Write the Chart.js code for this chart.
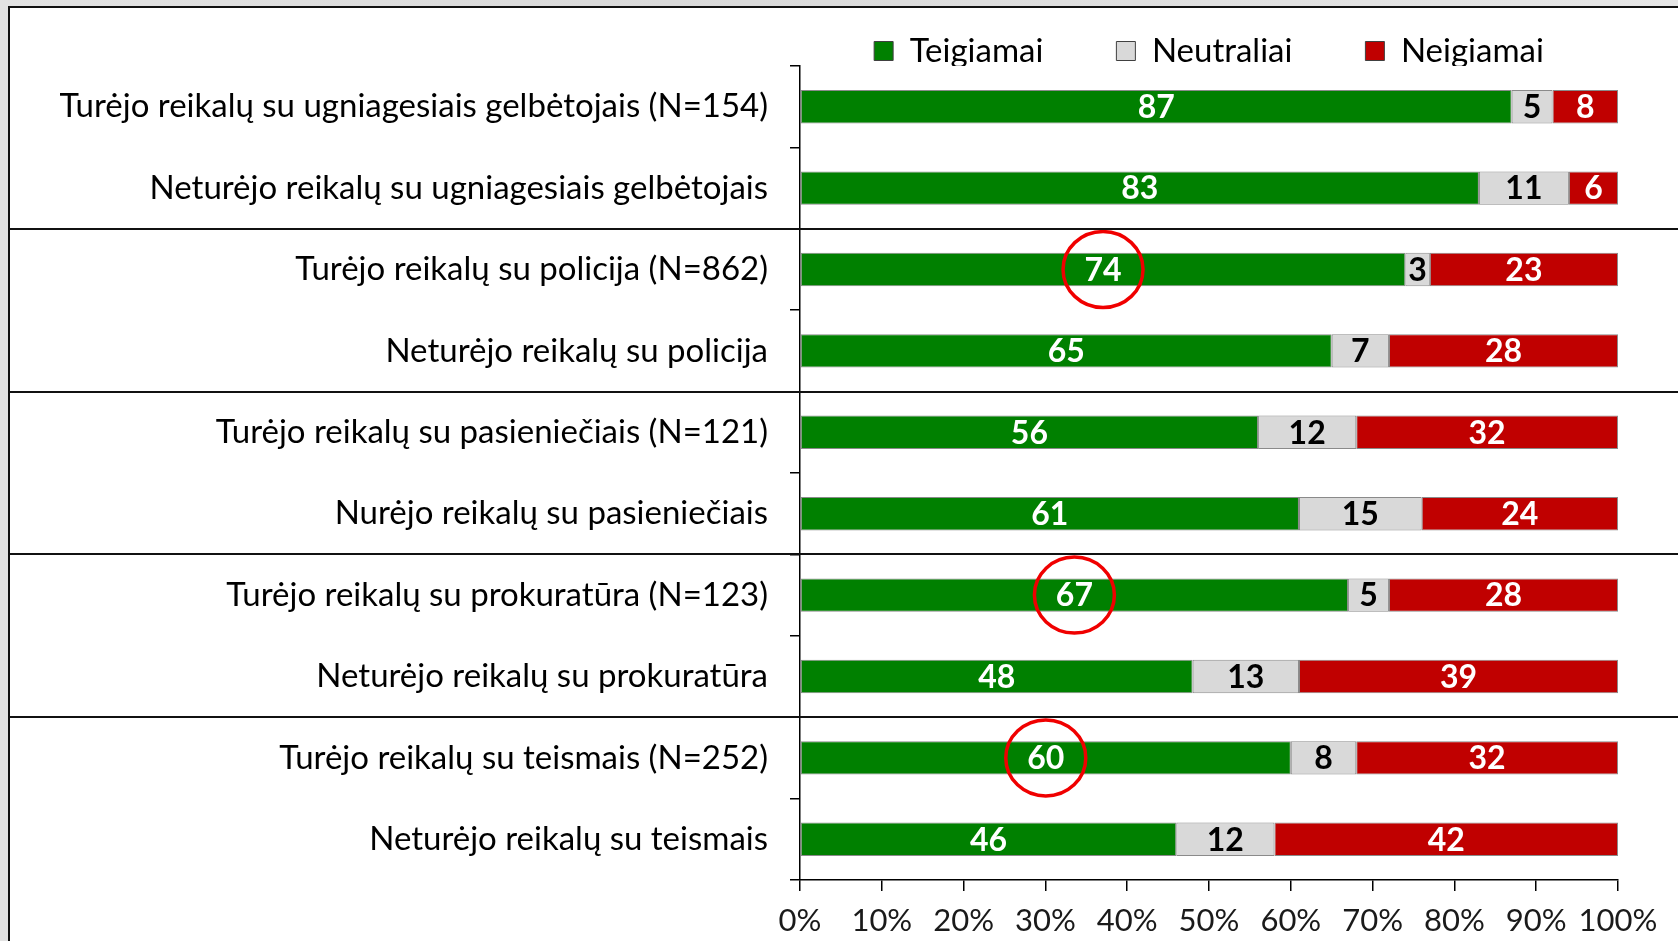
<!DOCTYPE html>
<html>
<head>
<meta charset="utf-8">
<script src="https://cdn.jsdelivr.net/npm/chart.js@4.4.1/dist/chart.umd.min.js"></script>
<style>
  html, body { margin:0; padding:0; width:1678px; height:941px; overflow:hidden;
    background: linear-gradient(90deg, #e2e2e2, #d9d9d9 40%, #e6e6e6); }
  #frame { position:absolute; left:8px; top:6px; width:1670px; height:935px;
    border-top:2px solid #111; border-left:2px solid #111; background:#fff; box-sizing:border-box; }
  #wrap { position:absolute; left:0; top:0; width:1678px; height:941px; }
</style>
</head>
<body>
<div id="frame"></div>
<div id="wrap"><canvas id="c" width="1678" height="941"></canvas></div>
<script>
const categories = [
  'Turėjo reikalų su ugniagesiais gelbėtojais (N=154)',
  'Neturėjo reikalų su ugniagesiais gelbėtojais',
  'Turėjo reikalų su policija (N=862)',
  'Neturėjo reikalų su policija',
  'Turėjo reikalų su pasieniečiais (N=121)',
  'Nurėjo reikalų su pasieniečiais',
  'Turėjo reikalų su prokuratūra (N=123)',
  'Neturėjo reikalų su prokuratūra',
  'Turėjo reikalų su teismais (N=252)',
  'Neturėjo reikalų su teismais'
];
const seriesNames = ['Teigiamai', 'Neutraliai', 'Neigiamai'];
const teigiamai  = [87, 83, 74, 65, 56, 61, 67, 48, 60, 46];
const neutraliai = [5, 11, 3, 7, 12, 15, 5, 13, 8, 12];
const neigiamai  = [8, 6, 23, 28, 32, 24, 28, 39, 32, 42];
const xTicks = [0, 10, 20, 30, 40, 50, 60, 70, 80, 90, 100];
const circledRows = [2, 6, 8];       // rows whose positive value is circled
const groupBreaks = [1, 3, 5, 7];    // separator after these rows

const FONT = 'Lato, "Open Sans", sans-serif';

const valueLabels = {
  id: 'valueLabels',
  afterDatasetsDraw(chart) {
    const ctx = chart.ctx;
    ctx.save();
    ctx.font = 'bold 32px ' + FONT;
    ctx.textAlign = 'center';
    ctx.textBaseline = 'middle';
    chart.data.datasets.forEach((ds, di) => {
      const meta = chart.getDatasetMeta(di);
      meta.data.forEach((el, i) => {
        const cx = (el.x + el.base) / 2;
        ctx.fillStyle = di === 1 ? '#000' : '#fff';
        ctx.fillText(String(ds.data[i]), cx, el.y + 1);
      });
    });
    // circles
    const meta0 = chart.getDatasetMeta(0);
    ctx.strokeStyle = '#f00000';
    ctx.lineWidth = 3.5;
    circledRows.forEach(i => {
      const el = meta0.data[i];
      const cx = (el.x + el.base) / 2;
      ctx.beginPath();
      ctx.ellipse(cx, el.y, 40, 38, 0, 0, Math.PI * 2);
      ctx.stroke();
    });
    ctx.restore();
  },
  afterDraw(chart) {
    const ctx = chart.ctx;
    const y = chart.scales.y;
    ctx.save();
    ctx.strokeStyle = '#111';
    ctx.lineWidth = 2;
    groupBreaks.forEach(i => {
      const py = Math.round((y.getPixelForValue(i) + y.getPixelForValue(i + 1)) / 2);
      ctx.beginPath();
      ctx.moveTo(9, py);
      ctx.lineTo(chart.width, py);
      ctx.stroke();
    });
    ctx.restore();
  },
  afterLayout(chart) {
    const lg = chart.legend;
    if (lg) {
      const pad = lg.options.labels.padding;
      lg.top = 51 - 33 / 2 - pad;
    }
  }
};

const borderCol = '#8a8a8a';
new Chart(document.getElementById('c'), {
  type: 'bar',
  data: {
    labels: categories,
    datasets: [
      { label: seriesNames[0], data: teigiamai,  backgroundColor: '#008000', borderColor: borderCol, borderWidth: 1, borderSkipped: false },
      { label: seriesNames[1], data: neutraliai, backgroundColor: '#d9d9d9', borderColor: borderCol, borderWidth: 1, borderSkipped: false },
      { label: seriesNames[2], data: neigiamai,  backgroundColor: '#c00000', borderColor: borderCol, borderWidth: 1, borderSkipped: false }
    ]
  },
  options: {
    indexAxis: 'y',
    responsive: false,
    animation: false,
    devicePixelRatio: 1,
    categoryPercentage: 1,
    barPercentage: 0.41,
    layout: { padding: { left: 0, right: 60, top: 6, bottom: 0 } },
    plugins: {
      tooltip: { enabled: false },
      legend: {
        position: 'top',
        fullSize: false,
        maxHeight: 60,
        labels: {
          font: { family: FONT, size: 33 },
          color: '#000',
          boxWidth: 19,
          boxHeight: 19,
          padding: 73,
          generateLabels(chart) {
            const items = Chart.defaults.plugins.legend.labels.generateLabels(chart);
            items.forEach(it => { it.strokeStyle = '#404040'; it.lineWidth = 1; });
            return items;
          }
        }
      }
    },
    scales: {
      x: {
        stacked: true,
        min: 0, max: 100,
        afterBuildTicks(scale) { scale.ticks = xTicks.map(v => ({ value: v })); },
        afterFit(scale) { scale.height = 61; },
        ticks: {
          callback: v => v + '%',
          font: { family: FONT, size: 31 },
          color: '#1a1a1a',
          padding: 11,
          maxRotation: 0,
          autoSkip: false
        },
        grid: { drawOnChartArea: false, drawTicks: true, tickLength: 11, color: '#000', lineWidth: 1.5 },
        border: { display: true, color: '#000', width: 1.5 }
      },
      y: {
        stacked: true,
        afterFit(scale) { scale.width = 800; },
        ticks: {
          font: { family: FONT, size: 33 },
          color: '#000',
          padding: 22,
          autoSkip: false
        },
        grid: { offset: true, drawOnChartArea: false, drawTicks: true, tickLength: 10, color: '#000', lineWidth: 1.5 },
        border: { display: true, color: '#000', width: 1.5 }
      }
    }
  },
  plugins: [valueLabels]
});
</script>
</body>
</html>
